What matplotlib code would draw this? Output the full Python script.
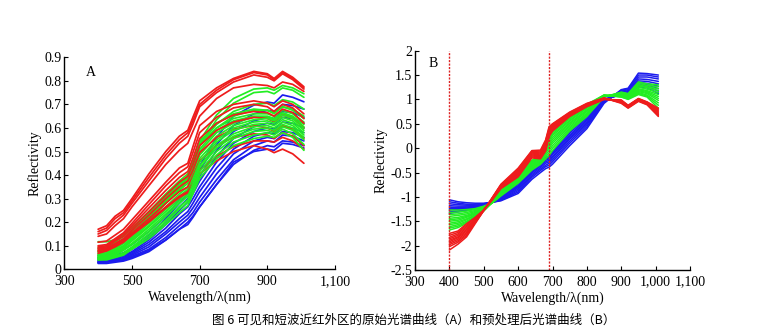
import matplotlib
matplotlib.use("Agg")
import matplotlib.pyplot as plt

plt.rcParams["font.family"] = ["Liberation Serif", "DejaVu Serif"]
plt.rcParams["axes.unicode_minus"] = False

# ---------------- Panel A: raw reflectance spectra ----------------
wavelength = [400, 425, 450, 475, 500, 550, 600, 640, 665, 680, 700,
              750, 800, 860, 900, 920, 945, 975, 1008]

red_spectra = [
    [0.170, 0.185, 0.225, 0.250, 0.300, 0.405, 0.500, 0.565, 0.590, 0.645, 0.715, 0.770, 0.810, 0.840, 0.830, 0.810, 0.840, 0.815, 0.775],
    [0.160, 0.175, 0.215, 0.240, 0.290, 0.390, 0.485, 0.550, 0.580, 0.630, 0.700, 0.760, 0.805, 0.835, 0.825, 0.805, 0.835, 0.810, 0.770],
    [0.150, 0.165, 0.200, 0.230, 0.280, 0.375, 0.470, 0.535, 0.565, 0.615, 0.690, 0.750, 0.795, 0.825, 0.815, 0.800, 0.830, 0.805, 0.765],
    [0.140, 0.150, 0.185, 0.215, 0.265, 0.355, 0.445, 0.505, 0.535, 0.585, 0.650, 0.725, 0.770, 0.785, 0.780, 0.770, 0.795, 0.785, 0.755],
    [0.115, 0.120, 0.145, 0.170, 0.210, 0.290, 0.370, 0.430, 0.450, 0.520, 0.610, 0.670, 0.700, 0.715, 0.705, 0.690, 0.715, 0.700, 0.660],
    [0.100, 0.105, 0.130, 0.155, 0.195, 0.275, 0.355, 0.410, 0.435, 0.495, 0.580, 0.645, 0.685, 0.700, 0.690, 0.670, 0.700, 0.685, 0.640],
    [0.095, 0.100, 0.125, 0.150, 0.185, 0.260, 0.335, 0.390, 0.415, 0.470, 0.555, 0.620, 0.655, 0.670, 0.665, 0.650, 0.680, 0.665, 0.620],
    [0.090, 0.095, 0.120, 0.140, 0.175, 0.245, 0.315, 0.370, 0.395, 0.445, 0.525, 0.590, 0.625, 0.645, 0.640, 0.625, 0.655, 0.640, 0.600],
    [0.085, 0.090, 0.110, 0.130, 0.165, 0.230, 0.300, 0.350, 0.375, 0.420, 0.495, 0.560, 0.595, 0.610, 0.600, 0.585, 0.610, 0.595, 0.555],
    [0.080, 0.085, 0.105, 0.125, 0.155, 0.215, 0.280, 0.330, 0.350, 0.395, 0.460, 0.525, 0.560, 0.575, 0.570, 0.555, 0.580, 0.565, 0.525],
    [0.075, 0.080, 0.100, 0.120, 0.150, 0.205, 0.265, 0.310, 0.330, 0.370, 0.420, 0.480, 0.520, 0.545, 0.545, 0.540, 0.560, 0.545, 0.510],
    [0.068, 0.078, 0.095, 0.115, 0.145, 0.200, 0.260, 0.305, 0.325, 0.360, 0.405, 0.460, 0.500, 0.525, 0.510, 0.495, 0.510, 0.490, 0.450],
]

green_spectra = [
    [0.060, 0.065, 0.085, 0.110, 0.145, 0.215, 0.290, 0.350, 0.385, 0.450, 0.545, 0.655, 0.725, 0.765, 0.770, 0.760, 0.780, 0.770, 0.745],
    [0.055, 0.060, 0.080, 0.100, 0.135, 0.205, 0.280, 0.340, 0.375, 0.435, 0.525, 0.635, 0.705, 0.750, 0.755, 0.745, 0.770, 0.760, 0.730],
    [0.070, 0.075, 0.095, 0.120, 0.155, 0.225, 0.300, 0.360, 0.390, 0.455, 0.530, 0.615, 0.670, 0.700, 0.705, 0.695, 0.720, 0.710, 0.680],
    [0.117, 0.117, 0.125, 0.145, 0.175, 0.240, 0.310, 0.365, 0.395, 0.455, 0.525, 0.600, 0.650, 0.675, 0.675, 0.665, 0.690, 0.680, 0.650],
    [0.090, 0.095, 0.115, 0.140, 0.175, 0.245, 0.320, 0.375, 0.405, 0.465, 0.540, 0.620, 0.660, 0.680, 0.675, 0.660, 0.690, 0.675, 0.640],
    [0.080, 0.085, 0.105, 0.130, 0.165, 0.235, 0.305, 0.360, 0.390, 0.450, 0.525, 0.600, 0.640, 0.660, 0.660, 0.650, 0.675, 0.660, 0.625],
    [0.075, 0.080, 0.100, 0.120, 0.155, 0.220, 0.290, 0.345, 0.375, 0.435, 0.510, 0.590, 0.630, 0.650, 0.650, 0.640, 0.665, 0.650, 0.615],
    [0.065, 0.070, 0.090, 0.110, 0.145, 0.210, 0.280, 0.335, 0.365, 0.425, 0.500, 0.580, 0.620, 0.645, 0.645, 0.635, 0.660, 0.645, 0.605],
    [0.060, 0.065, 0.080, 0.100, 0.130, 0.195, 0.265, 0.320, 0.350, 0.410, 0.485, 0.565, 0.610, 0.635, 0.640, 0.630, 0.655, 0.640, 0.600],
    [0.055, 0.060, 0.075, 0.095, 0.125, 0.185, 0.255, 0.310, 0.340, 0.395, 0.470, 0.550, 0.600, 0.625, 0.630, 0.620, 0.645, 0.630, 0.590],
    [0.050, 0.055, 0.070, 0.090, 0.120, 0.180, 0.245, 0.300, 0.330, 0.385, 0.455, 0.540, 0.590, 0.615, 0.620, 0.610, 0.635, 0.620, 0.580],
    [0.050, 0.050, 0.065, 0.085, 0.110, 0.170, 0.235, 0.290, 0.320, 0.370, 0.440, 0.525, 0.575, 0.605, 0.610, 0.600, 0.625, 0.610, 0.570],
    [0.045, 0.050, 0.060, 0.080, 0.105, 0.160, 0.225, 0.280, 0.310, 0.360, 0.430, 0.515, 0.565, 0.595, 0.600, 0.590, 0.615, 0.600, 0.560],
    [0.045, 0.045, 0.055, 0.070, 0.095, 0.150, 0.210, 0.265, 0.295, 0.345, 0.415, 0.500, 0.555, 0.585, 0.590, 0.580, 0.605, 0.590, 0.550],
    [0.040, 0.045, 0.055, 0.065, 0.090, 0.140, 0.200, 0.255, 0.285, 0.335, 0.400, 0.485, 0.540, 0.570, 0.580, 0.570, 0.595, 0.575, 0.530],
    [0.040, 0.040, 0.050, 0.060, 0.085, 0.130, 0.190, 0.240, 0.270, 0.320, 0.385, 0.470, 0.525, 0.555, 0.565, 0.560, 0.580, 0.560, 0.505],
]

blue_spectra = [
    [0.060, 0.060, 0.070, 0.085, 0.105, 0.160, 0.225, 0.295, 0.335, 0.380, 0.440, 0.560, 0.650, 0.697, 0.710, 0.705, 0.740, 0.730, 0.711],
    [0.050, 0.050, 0.060, 0.070, 0.090, 0.145, 0.215, 0.280, 0.320, 0.360, 0.420, 0.530, 0.610, 0.660, 0.675, 0.670, 0.700, 0.695, 0.680],
    [0.045, 0.045, 0.055, 0.065, 0.085, 0.135, 0.200, 0.265, 0.300, 0.340, 0.395, 0.505, 0.585, 0.630, 0.645, 0.640, 0.670, 0.665, 0.645],
    [0.040, 0.040, 0.050, 0.060, 0.075, 0.125, 0.190, 0.250, 0.285, 0.320, 0.375, 0.480, 0.555, 0.605, 0.620, 0.615, 0.645, 0.640, 0.620],
    [0.035, 0.040, 0.045, 0.055, 0.070, 0.115, 0.175, 0.235, 0.265, 0.300, 0.350, 0.455, 0.535, 0.585, 0.600, 0.595, 0.625, 0.620, 0.600],
    [0.035, 0.035, 0.040, 0.050, 0.065, 0.105, 0.160, 0.215, 0.245, 0.280, 0.330, 0.430, 0.510, 0.565, 0.580, 0.575, 0.605, 0.600, 0.580],
    [0.030, 0.035, 0.040, 0.045, 0.060, 0.095, 0.150, 0.200, 0.230, 0.260, 0.305, 0.405, 0.490, 0.545, 0.560, 0.555, 0.585, 0.580, 0.560],
    [0.030, 0.030, 0.035, 0.040, 0.055, 0.085, 0.135, 0.185, 0.215, 0.240, 0.285, 0.380, 0.465, 0.525, 0.545, 0.540, 0.570, 0.565, 0.545],
    [0.028, 0.030, 0.035, 0.040, 0.050, 0.080, 0.125, 0.170, 0.200, 0.225, 0.265, 0.360, 0.445, 0.505, 0.525, 0.520, 0.545, 0.540, 0.525],
    [0.025, 0.025, 0.030, 0.035, 0.046, 0.075, 0.124, 0.170, 0.190, 0.220, 0.265, 0.360, 0.455, 0.500, 0.510, 0.505, 0.535, 0.530, 0.515],
]

# ---------------- Panel B: preprocessed (normalised) spectra ----------------
wavelength_b = [400, 425, 450, 475, 500, 525, 550, 600, 640, 665, 680,
                690, 700, 750, 800, 850, 900, 920, 950, 975, 1008]

red_norm = [
    [-1.75, -1.70, -1.55, -1.42, -1.27, -1.06, -0.83, -0.59, -0.20, -0.22, -0.06, 0.24, 0.35, 0.65, 0.85, 1.00, 0.99, 0.88, 1.02, 0.95, 0.82],
    [-1.79, -1.73, -1.58, -1.43, -1.27, -1.05, -0.82, -0.57, -0.18, -0.20, -0.03, 0.26, 0.37, 0.66, 0.86, 1.00, 0.98, 0.87, 1.01, 0.94, 0.80],
    [-1.83, -1.76, -1.61, -1.45, -1.27, -1.05, -0.81, -0.55, -0.16, -0.18, 0.00, 0.28, 0.39, 0.67, 0.87, 1.01, 0.97, 0.87, 1.01, 0.94, 0.78],
    [-1.86, -1.79, -1.64, -1.46, -1.27, -1.04, -0.80, -0.53, -0.14, -0.16, 0.03, 0.30, 0.41, 0.68, 0.88, 1.01, 0.97, 0.86, 1.00, 0.93, 0.76],
    [-1.89, -1.82, -1.67, -1.48, -1.27, -1.04, -0.79, -0.51, -0.12, -0.14, 0.06, 0.32, 0.43, 0.69, 0.88, 1.01, 0.96, 0.86, 1.00, 0.93, 0.74],
    [-1.92, -1.84, -1.70, -1.49, -1.27, -1.03, -0.78, -0.49, -0.10, -0.12, 0.09, 0.34, 0.44, 0.70, 0.89, 1.02, 0.96, 0.85, 0.99, 0.92, 0.72],
    [-1.95, -1.87, -1.73, -1.50, -1.27, -1.03, -0.77, -0.47, -0.08, -0.10, 0.11, 0.36, 0.46, 0.71, 0.90, 1.02, 0.95, 0.85, 0.99, 0.92, 0.70],
    [-1.98, -1.90, -1.76, -1.52, -1.28, -1.02, -0.76, -0.45, -0.07, -0.08, 0.13, 0.38, 0.47, 0.72, 0.90, 1.02, 0.94, 0.84, 0.98, 0.91, 0.69],
    [-2.02, -1.93, -1.79, -1.53, -1.28, -1.02, -0.75, -0.43, -0.06, -0.06, 0.15, 0.41, 0.49, 0.73, 0.91, 1.03, 0.93, 0.83, 0.97, 0.90, 0.67],
    [-2.09, -1.97, -1.82, -1.55, -1.28, -1.01, -0.74, -0.41, -0.05, -0.04, 0.17, 0.44, 0.50, 0.74, 0.92, 1.03, 0.92, 0.82, 0.96, 0.89, 0.65],
]

green_norm = [
    [-1.27, -1.27, -1.26, -1.24, -1.19, -1.12, -0.98, -0.72, -0.45, -0.33, -0.22, -0.15, -0.05, 0.35, 0.65, 1.05, 1.15, 1.12, 1.36, 1.32, 1.30],
    [-1.32, -1.31, -1.29, -1.26, -1.20, -1.12, -0.97, -0.70, -0.43, -0.31, -0.18, -0.10, 0.00, 0.38, 0.68, 1.05, 1.14, 1.11, 1.33, 1.29, 1.26],
    [-1.36, -1.35, -1.32, -1.28, -1.21, -1.12, -0.96, -0.68, -0.41, -0.29, -0.14, -0.05, 0.05, 0.41, 0.70, 1.06, 1.13, 1.10, 1.30, 1.26, 1.22],
    [-1.40, -1.38, -1.35, -1.30, -1.22, -1.12, -0.95, -0.66, -0.39, -0.27, -0.10, 0.00, 0.10, 0.44, 0.72, 1.06, 1.12, 1.09, 1.28, 1.24, 1.18],
    [-1.44, -1.42, -1.38, -1.32, -1.23, -1.12, -0.94, -0.64, -0.37, -0.25, -0.07, 0.04, 0.14, 0.47, 0.75, 1.07, 1.11, 1.08, 1.25, 1.21, 1.14],
    [-1.47, -1.45, -1.40, -1.34, -1.24, -1.11, -0.93, -0.62, -0.35, -0.23, -0.04, 0.08, 0.18, 0.50, 0.77, 1.07, 1.10, 1.07, 1.22, 1.18, 1.10],
    [-1.50, -1.48, -1.42, -1.35, -1.25, -1.11, -0.92, -0.60, -0.33, -0.21, -0.01, 0.12, 0.22, 0.52, 0.79, 1.07, 1.09, 1.06, 1.20, 1.16, 1.06],
    [-1.54, -1.51, -1.45, -1.37, -1.26, -1.11, -0.91, -0.58, -0.31, -0.19, 0.02, 0.16, 0.26, 0.55, 0.82, 1.08, 1.08, 1.05, 1.18, 1.14, 1.02],
    [-1.57, -1.54, -1.47, -1.38, -1.27, -1.11, -0.90, -0.57, -0.29, -0.18, 0.05, 0.19, 0.29, 0.57, 0.84, 1.08, 1.07, 1.04, 1.16, 1.12, 0.98],
    [-1.61, -1.57, -1.50, -1.40, -1.28, -1.11, -0.89, -0.55, -0.27, -0.17, 0.08, 0.22, 0.32, 0.60, 0.86, 1.08, 1.06, 1.03, 1.14, 1.09, 0.93],
    [-1.64, -1.60, -1.52, -1.41, -1.28, -1.11, -0.88, -0.54, -0.26, -0.16, 0.10, 0.25, 0.35, 0.62, 0.88, 1.09, 1.05, 1.01, 1.12, 1.07, 0.88],
    [-1.68, -1.63, -1.54, -1.42, -1.29, -1.11, -0.87, -0.52, -0.25, -0.15, 0.12, 0.28, 0.38, 0.65, 0.90, 1.09, 1.05, 1.00, 1.10, 1.05, 0.82],
]

blue_norm = [
    [-1.06, -1.10, -1.12, -1.13, -1.13, -1.11, -1.08, -0.93, -0.64, -0.50, -0.42, -0.39, -0.33, 0.05, 0.40, 0.92, 1.20, 1.23, 1.54, 1.53, 1.50],
    [-1.10, -1.13, -1.15, -1.15, -1.14, -1.11, -1.07, -0.90, -0.60, -0.46, -0.38, -0.35, -0.28, 0.10, 0.44, 0.94, 1.19, 1.22, 1.50, 1.50, 1.46],
    [-1.14, -1.16, -1.17, -1.17, -1.15, -1.11, -1.06, -0.87, -0.57, -0.43, -0.35, -0.31, -0.24, 0.14, 0.48, 0.95, 1.17, 1.20, 1.46, 1.46, 1.42],
    [-1.18, -1.19, -1.19, -1.18, -1.15, -1.11, -1.05, -0.84, -0.54, -0.40, -0.31, -0.28, -0.20, 0.18, 0.51, 0.96, 1.15, 1.18, 1.42, 1.41, 1.37],
    [-1.21, -1.22, -1.21, -1.19, -1.16, -1.11, -1.04, -0.81, -0.51, -0.37, -0.28, -0.25, -0.17, 0.21, 0.54, 0.97, 1.14, 1.16, 1.38, 1.37, 1.32],
    [-1.24, -1.24, -1.23, -1.20, -1.16, -1.10, -1.03, -0.79, -0.49, -0.34, -0.25, -0.22, -0.13, 0.24, 0.57, 0.98, 1.12, 1.14, 1.35, 1.33, 1.27],
    [-1.27, -1.26, -1.24, -1.21, -1.16, -1.10, -1.02, -0.77, -0.47, -0.32, -0.22, -0.20, -0.10, 0.27, 0.60, 0.99, 1.11, 1.12, 1.32, 1.30, 1.22],
    [-1.31, -1.29, -1.26, -1.22, -1.17, -1.10, -1.01, -0.74, -0.46, -0.30, -0.20, -0.18, -0.08, 0.31, 0.63, 1.00, 1.10, 1.10, 1.29, 1.27, 1.17],
    [-1.34, -1.31, -1.28, -1.23, -1.17, -1.10, -1.00, -0.72, -0.45, -0.28, -0.19, -0.17, -0.07, 0.34, 0.66, 1.01, 1.09, 1.09, 1.26, 1.24, 1.12],
]

# ---------------- Axes, ticks and labels ----------------
xticks_a = [300, 500, 700, 900, 1100]
xticklabels_a = ["300", "500", "700", "900", "1,100"]
yticks_a = [0, 0.1, 0.2, 0.3, 0.4, 0.5, 0.6, 0.7, 0.8, 0.9]
yticklabels_a = ["0", "0.1", "0.2", "0.3", "0.4", "0.5", "0.6", "0.7", "0.8", "0.9"]
xticks_b = [300, 400, 500, 600, 700, 800, 900, 1000, 1100]
xticklabels_b = ["300", "400", "500", "600", "700", "800", "900", "1,000", "1,100"]
yticks_b = [-2.5, -2, -1.5, -1, -0.5, 0, 0.5, 1, 1.5, 2]
yticklabels_b = ["-2.5", "-2", "-1.5", "-1", "-0.5", "0", "0.5", "1", "1.5", "2"]
band_limits = [400, 690]

caption = "图 6 可见和短波近红外区的原始光谱曲线（A）和预处理后光谱曲线（B）"

RED, GREEN, BLUE = "#ee1c1c", "#22ee22", "#1c1cee"


def style_axes(ax, xt, xtl, yt, ytl, ylim):
    ax.set_xlim(300, 1100)
    ax.set_ylim(*ylim)
    ax.set_xticks(xt)
    ax.set_xticklabels(xtl)
    ax.set_yticks(yt)
    ax.set_yticklabels(ytl)
    for s in ("top", "right"):
        ax.spines[s].set_visible(False)
    for s in ("left", "bottom"):
        ax.spines[s].set_linewidth(1.0)
    ax.tick_params(direction="in", length=3, width=0.8, labelsize=10)
    ax.tick_params(axis="x", pad=4)
    ax.tick_params(axis="y", pad=2)
    ax.set_xlabel("Wavelength/λ(nm)", fontsize=10, labelpad=2)
    ax.set_ylabel("Reflectivity", fontsize=10, labelpad=2)


fig = plt.figure(figsize=(7.67, 3.31), dpi=100)
ax_a = fig.add_axes([0.0838, 0.1864, 0.3530, 0.6406])
ax_b = fig.add_axes([0.5411, 0.1843, 0.3585, 0.6626])

kw_a = dict(lw=1.25, solid_joinstyle="round", solid_capstyle="round")
kw_b = dict(lw=1.1, solid_joinstyle="round", solid_capstyle="round")

# Panel A: samples of the three classes drawn interleaved
n_max = max(len(red_spectra), len(green_spectra), len(blue_spectra))
for i in range(n_max):
    for spectra, color in ((blue_spectra, BLUE), (green_spectra, GREEN),
                           (red_spectra, RED)):
        if i < len(spectra):
            ax_a.plot(wavelength, spectra[i], color=color, **kw_a)

# Panel B
for spectra, color in ((blue_norm, BLUE), (green_norm, GREEN), (red_norm, RED)):
    for s in spectra:
        ax_b.plot(wavelength_b, s, color=color, **kw_b)

style_axes(ax_a, xticks_a, xticklabels_a, yticks_a, yticklabels_a, (0, 0.9))
style_axes(ax_b, xticks_b, xticklabels_b, yticks_b, yticklabels_b, (-2.5, 2))

for x in band_limits:
    ax_b.axvline(x, color="#dd2222", lw=1.0, ls=(0, (1.5, 1)))

ax_a.text(0.1, 0.93, "A", transform=ax_a.transAxes, fontsize=10,
          ha="center", va="center")
ax_b.text(0.065, 0.94, "B", transform=ax_b.transAxes, fontsize=10,
          ha="center", va="center")

fig.text(0.54, 0.033, caption, fontsize=9, ha="center", va="center",
         family=["Noto Sans CJK SC", "DejaVu Sans"])

fig.savefig("out.png", dpi=100)
